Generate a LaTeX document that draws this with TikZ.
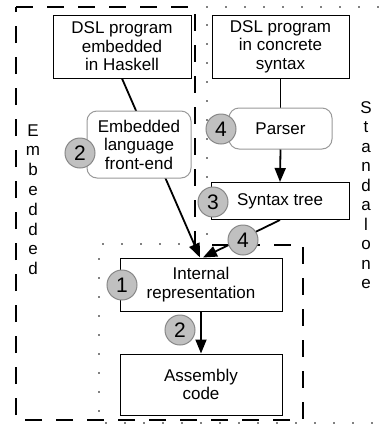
\documentclass[tikz,border=0pt]{standalone}
\usepackage{fontspec}
\setmainfont{Liberation Sans}
\usetikzlibrary{arrows.meta}
\definecolor{numfill}{HTML}{C0C0C0}
\definecolor{numborder}{HTML}{888888}
\definecolor{rborder}{HTML}{999999}
\newcommand\boxfont{\fontsize{17}{18.5}\selectfont}
\newcommand\numfont{\fontsize{21}{21}\selectfont}
\begin{document}
\begin{tikzpicture}[x=1pt,y=-1pt,
  box/.style={draw=black, line width=1pt, fill=white, align=center, font=\boxfont, inner sep=0pt},
  rbox/.style={box, draw=rborder, rounded corners=10pt},
  num/.style={circle, draw=numborder, fill=numfill, line width=1pt, minimum size=30pt, inner sep=0pt, font=\numfont},
  arr/.style={line width=1.8pt, -{Triangle[length=14pt,width=11pt]}},
  ln/.style={line width=1.8pt},
  region/.style={line width=2pt, dash pattern=on 17pt off 14pt},
  dotregion/.style={line width=1.8pt, line cap=round, dash pattern=on 0pt off 19pt},
  vlabel/.style={font=\boxfont, anchor=base, inner sep=0pt}
]
\useasboundingbox (0,0) rectangle (380,424);
% regions
\draw[region] (16,7) -- (195,7) -- (195,245) -- (303,245) -- (303,420) -- (16,420) -- cycle;
\draw[dotregion] (207,7) -- (395,7) -- (395,423) -- (99,423) -- (99,244) -- (207,244) -- cycle;
% vertical labels
\foreach \c [count=\i from 0] in {E,m,b,e,d,d,e,d}
  \node[vlabel] (emb\i) at (33,136+19.8*\i) {\c};
\foreach \c [count=\i from 0] in {S,t,a,n,d,a,l,o,n,e}
  \node[vlabel] (sta\i) at (366,113+19.5*\i) {\c};
% boxes
\node[box, minimum width=138pt, minimum height=63pt] (emb) at (122,46.5) {DSL program\\embedded\\in Haskell};
\node[box, minimum width=137pt, minimum height=63pt] (conc) at (280.5,46.5) {DSL program\\in concrete\\syntax};
\node[box, minimum width=138pt, minimum height=37pt] (st) at (280,201) {Syntax tree};
\node[box, minimum width=162pt, minimum height=53pt] (ir) at (201,284.5) {Internal\\representation};
\node[box, minimum width=162pt, minimum height=61pt] (asm) at (201,384.5) {Assembly\\code};
% connectors
\draw[arr] (emb.south) -- ([xshift=-1pt]ir.north);
\draw[ln] (conc.south) -- (280.5,110);
\node[rbox, minimum width=104pt, minimum height=67pt] (fe) at (139,144.5) {Embedded\\language\\front-end};
\node[rbox, minimum width=103pt, minimum height=41pt] (parser) at (280.5,128.5) {Parser};
\draw[arr] (parser.south) -- (st.north);
\draw[arr] (st.south) -- ([xshift=2pt]ir.north);
\draw[arr] (ir.south) -- (asm.north);
% numbers
\node[num] (n2a) at (80,153) {2};
\node[num] (n4a) at (221,129) {4};
\node[num] (n3) at (213,202) {3};
\node[num] (n4b) at (243,240) {4};
\node[num] (n1) at (122,285) {1};
\node[num] (n2b) at (180,330) {2};
\end{tikzpicture}
\end{document}
